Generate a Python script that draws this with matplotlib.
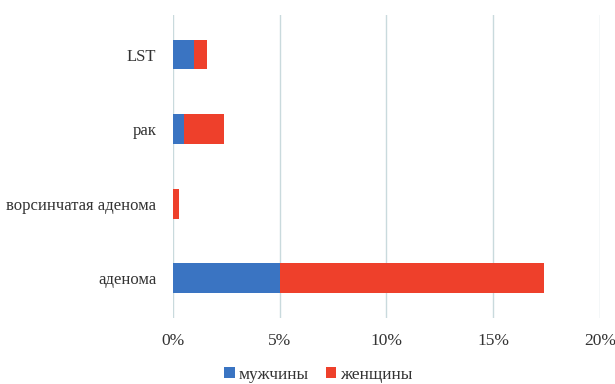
import matplotlib.pyplot as plt
from matplotlib.ticker import FuncFormatter

categories = ["аденома", "ворсинчатая аденома", "рак", "LST"]
men = [5.0, 0.0, 0.5, 1.0]
women = [12.4, 0.3, 1.9, 0.6]
xticks = [0, 5, 10, 15, 20]

plt.rcParams["font.family"] = "Liberation Serif"

fig = plt.figure(figsize=(6.15, 3.84), dpi=100)
ax = fig.add_axes([0.2813, 0.172, 0.6943, 0.789])

ax.barh(categories, men, height=0.4, color="#3a74c2", label="мужчины")
ax.barh(categories, women, left=men, height=0.4, color="#ee402b", label="женщины")

ax.set_xlim(0, 20)
ax.set_ylim(-0.53, 3.53)
ax.set_xticks(xticks)
ax.xaxis.set_major_formatter(FuncFormatter(lambda v, p: f"{v:.0f}%"))
ax.grid(axis="x", color="#c9dadd", linewidth=1)
ax.set_axisbelow(True)
for s in ax.spines.values():
    s.set_visible(False)
ax.tick_params(length=0, labelsize=12.5, labelcolor="#333333")
ax.tick_params(axis="x", pad=11)
ax.tick_params(axis="y", pad=12, labelsize=12)

ax.legend(loc="center", bbox_to_anchor=(0.34, -0.188), ncol=2, frameon=False,
          fontsize=12.5, handlelength=0.6, handleheight=0.6, handletextpad=0.2,
          columnspacing=1.0, labelcolor="#333333")

plt.savefig("out.png", dpi=100)
